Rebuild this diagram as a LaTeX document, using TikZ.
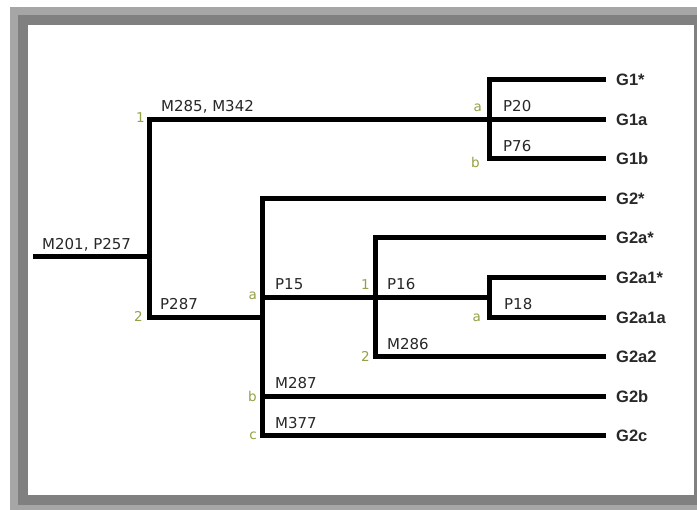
\documentclass[tikz,border=0pt]{standalone}
\usepackage{fontspec}
\newfontfamily\dvs{DejaVu Sans}
\newfontfamily\lsans{Liberation Sans}
\definecolor{olivelab}{RGB}{150,160,70}
\definecolor{framelight}{RGB}{166,166,166}
\definecolor{framedark}{RGB}{128,128,128}
\definecolor{txt}{RGB}{40,40,40}
\tikzset{
  branch/.style={line width=5pt, line join=miter, line cap=butt, black},
  brl/.style={anchor=base west, inner sep=0pt, text=txt, font=\dvs\fontsize{15}{18}\selectfont},
  olab/.style={anchor=base east, inner sep=0pt, text=olivelab, font=\dvs\fontsize{13.5}{16}\selectfont},
  leaf/.style={anchor=west, inner xsep=10pt, inner ysep=0pt, text=txt, font=\lsans\bfseries\fontsize{16.5}{19}\selectfont, text height=12pt, text depth=0pt}
}
\begin{document}
\begin{tikzpicture}[x=1pt,y=-1pt]
\useasboundingbox (0,0) rectangle (697,510);
% frame
\fill[framelight] (10,7) rectangle (697,510);
\fill[framedark] (18,15) rectangle (697,505);
\fill[white] (28,25) rectangle (694,495);

% leaves
\node[leaf] (G1s)   at (606,79.5)  {G1*};
\node[leaf] (G1a)   at (606,119.1) {G1a};
\node[leaf] (G1b)   at (606,158.7) {G1b};
\node[leaf] (G2s)   at (606,198.3) {G2*};
\node[leaf] (G2as)  at (606,237.9) {G2a*};
\node[leaf] (G2a1s) at (606,277.5) {G2a1*};
\node[leaf] (G2a1a) at (606,317.1) {G2a1a};
\node[leaf] (G2a2)  at (606,356.7) {G2a2};
\node[leaf] (G2b)   at (606,396.3) {G2b};
\node[leaf] (G2c)   at (606,435.9) {G2c};

% junctions
\coordinate (R0) at (33,257);
\coordinate (R1) at (149,257);
\coordinate (T1) at (149,119.1);
\coordinate (T2) at (149,317.1);
\coordinate (N1t) at (489,79.5);
\coordinate (N1b) at (489,158.7);
\coordinate (N2t) at (262,198.3);
\coordinate (N2a) at (262,297.3);
\coordinate (N2)  at (262,317.1);
\coordinate (N2b) at (262,396.3);
\coordinate (N2c) at (262,435.9);
\coordinate (N3t) at (375,237.9);
\coordinate (N3b) at (375,356.7);
\coordinate (N4)  at (489,297.3);
\coordinate (N4t) at (489,277.5);
\coordinate (N4b) at (489,317.1);

% branches
\draw[branch] (R0) -- (R1);
\draw[branch] (G1a.west) -- (T1) -- (T2) -- (N2);
\draw[branch] (G1s.west) -- (N1t) -- (N1b) -- (G1b.west);
\draw[branch] (G2s.west) -- (N2t) -- (N2c) -- (G2c.west);
\draw[branch] (N2a) -- (N4);
\draw[branch] (N2b) -- (G2b.west);
\draw[branch] (G2as.west) -- (N3t) -- (N3b) -- (G2a2.west);
\draw[branch] (G2a1s.west) -- (N4t) -- (N4b) -- (G2a1a.west);

% branch labels
\node[brl] (lroot) at (42,249.5) {M201, P257};
\node[brl] (lM285) at (161,111.6) {M285, M342};
\node[brl] (lP20)  at (503,111.6) {P20};
\node[brl] (lP76)  at (503,151.2) {P76};
\node[brl] (lP287) at (160,309.6) {P287};
\node[brl] (lP15)  at (275,289.8) {P15};
\node[brl] (lP16)  at (387,289.8) {P16};
\node[brl] (lP18)  at (504,309.6) {P18};
\node[brl] (lM286) at (387,349.2) {M286};
\node[brl] (lM287) at (275,388.8) {M287};
\node[brl] (lM377) at (275,428.4) {M377};

% olive markers
\node[olab] (o1)   at (145,123) {1};
\node[olab] (o2)   at (143,322) {2};
\node[olab] (o1a)  at (482,112) {a};
\node[olab] (o1b)  at (480,168) {b};
\node[olab] (o2a)  at (257,300) {a};
\node[olab] (o21)  at (370,290) {1};
\node[olab] (o22)  at (370,362) {2};
\node[olab] (o2a1) at (481,322) {a};
\node[olab] (o2b)  at (257,402) {b};
\node[olab] (o2c)  at (257,440) {c};
\end{tikzpicture}
\end{document}
